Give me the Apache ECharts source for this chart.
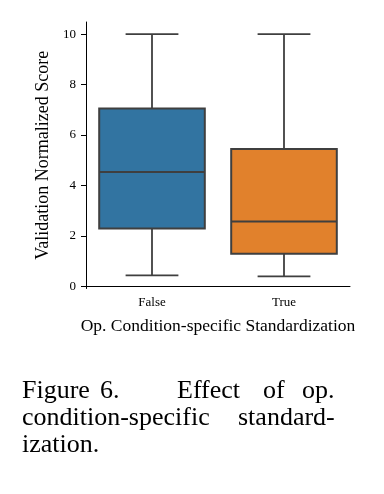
<!DOCTYPE html>
<html>
<head>
<meta charset="utf-8">
<script src="https://cdn.jsdelivr.net/npm/echarts@6/dist/echarts.min.js"></script>
<style>html,body{margin:0;padding:0;background:#fff}#c{width:384px;height:494px}</style>
</head>
<body>
<div id="c"></div>
<script>
// Data
const categories = ['False', 'True'];
const whiskerLow = [0.44, 0.40];
const q1 = [2.30, 1.30];
const median = [4.54, 2.57];
const q3 = [7.05, 5.45];
const whiskerHigh = [10.0, 10.0];
const yTicks = [0, 2, 4, 6, 8, 10];
const boxColors = ['#3274a1', '#e1812c'];
const xTitle = 'Op. Condition-specific Standardization';
const yTitle = 'Validation Normalized Score';
const captionLines = [
  ['Figure', '6.', 'Effect', 'of', 'op.'],
  ['condition-specific', 'standard-'],
  ['ization.']
];

const serif = '"Liberation Serif", "DejaVu Serif", serif';
const edge = '#3f3f3f';
const chart = echarts.init(document.getElementById('c'), null, {renderer: 'canvas'});

const boxData = categories.map((c, i) => [i, whiskerLow[i], q1[i], median[i], q3[i], whiskerHigh[i]]);

function renderBox(params, api) {
  const i = api.value(0);
  const lo = api.coord([i, api.value(1)]);
  const b1 = api.coord([i, api.value(2)]);
  const md = api.coord([i, api.value(3)]);
  const b3 = api.coord([i, api.value(4)]);
  const hi = api.coord([i, api.value(5)]);
  const band = api.size([1, 0])[0];
  const bw = band * 0.8, cw = bw / 2;
  const cx = lo[0];
  const ls = {stroke: edge, lineWidth: 1.8};
  return {
    type: 'group',
    children: [
      {type: 'line', shape: {x1: cx, y1: lo[1], x2: cx, y2: b1[1]}, style: ls},
      {type: 'line', shape: {x1: cx, y1: hi[1], x2: cx, y2: b3[1]}, style: ls},
      {type: 'line', shape: {x1: cx - cw / 2, y1: lo[1], x2: cx + cw / 2, y2: lo[1]}, style: ls},
      {type: 'line', shape: {x1: cx - cw / 2, y1: hi[1], x2: cx + cw / 2, y2: hi[1]}, style: ls},
      {type: 'rect', shape: {x: cx - bw / 2, y: b3[1], width: bw, height: b1[1] - b3[1]},
        style: {fill: boxColors[i], stroke: edge, lineWidth: 2}},
      {type: 'line', shape: {x1: cx - bw / 2, y1: md[1], x2: cx + bw / 2, y2: md[1]}, style: {stroke: edge, lineWidth: 2}}
    ]
  };
}

// caption word positions (justified lines)
const captionX = [
  [22, 100, 177, 263, 302],
  [22, 238],
  [22]
];
const captionY = [398, 425, 452];
const graphics = [];
captionLines.forEach((line, li) => {
  line.forEach((w, wi) => {
    graphics.push({
      type: 'text', left: captionX[li][wi], top: captionY[li] - 20,
      style: {text: w, font: '26px ' + serif, fill: '#000'}
    });
  });
});

chart.setOption({
  animation: false,
  grid: {left: 86, right: 34, top: 22, bottom: 205.5},
  xAxis: {
    type: 'category', data: categories,
    name: xTitle, nameLocation: 'middle', nameGap: 29,
    nameTextStyle: {fontFamily: serif, fontSize: 17.5, color: '#000'},
    axisLine: {lineStyle: {color: '#000', width: 1}},
    axisTick: {alignWithLabel: true, length: 5, lineStyle: {color: '#000'}},
    axisLabel: {fontFamily: serif, fontSize: 13, color: '#000', margin: 8},
    splitLine: {show: false}
  },
  yAxis: {
    type: 'value', min: -0.08, max: 10.48,
    name: yTitle, nameLocation: 'middle', nameGap: 30,
    nameTextStyle: {fontFamily: serif, fontSize: 18, color: '#000'},
    axisLine: {show: true, lineStyle: {color: '#000', width: 1}},
    axisTick: {show: true, length: 5, customValues: yTicks, lineStyle: {color: '#000'}},
    axisLabel: {fontFamily: serif, fontSize: 13, color: '#000', margin: 10, customValues: yTicks},
    splitLine: {show: false}
  },
  series: [{
    type: 'custom', renderItem: renderBox, data: boxData,
    encode: {x: 0, y: [1, 2, 3, 4, 5]}
  }],
  graphic: graphics
});
</script>
</body>
</html>
